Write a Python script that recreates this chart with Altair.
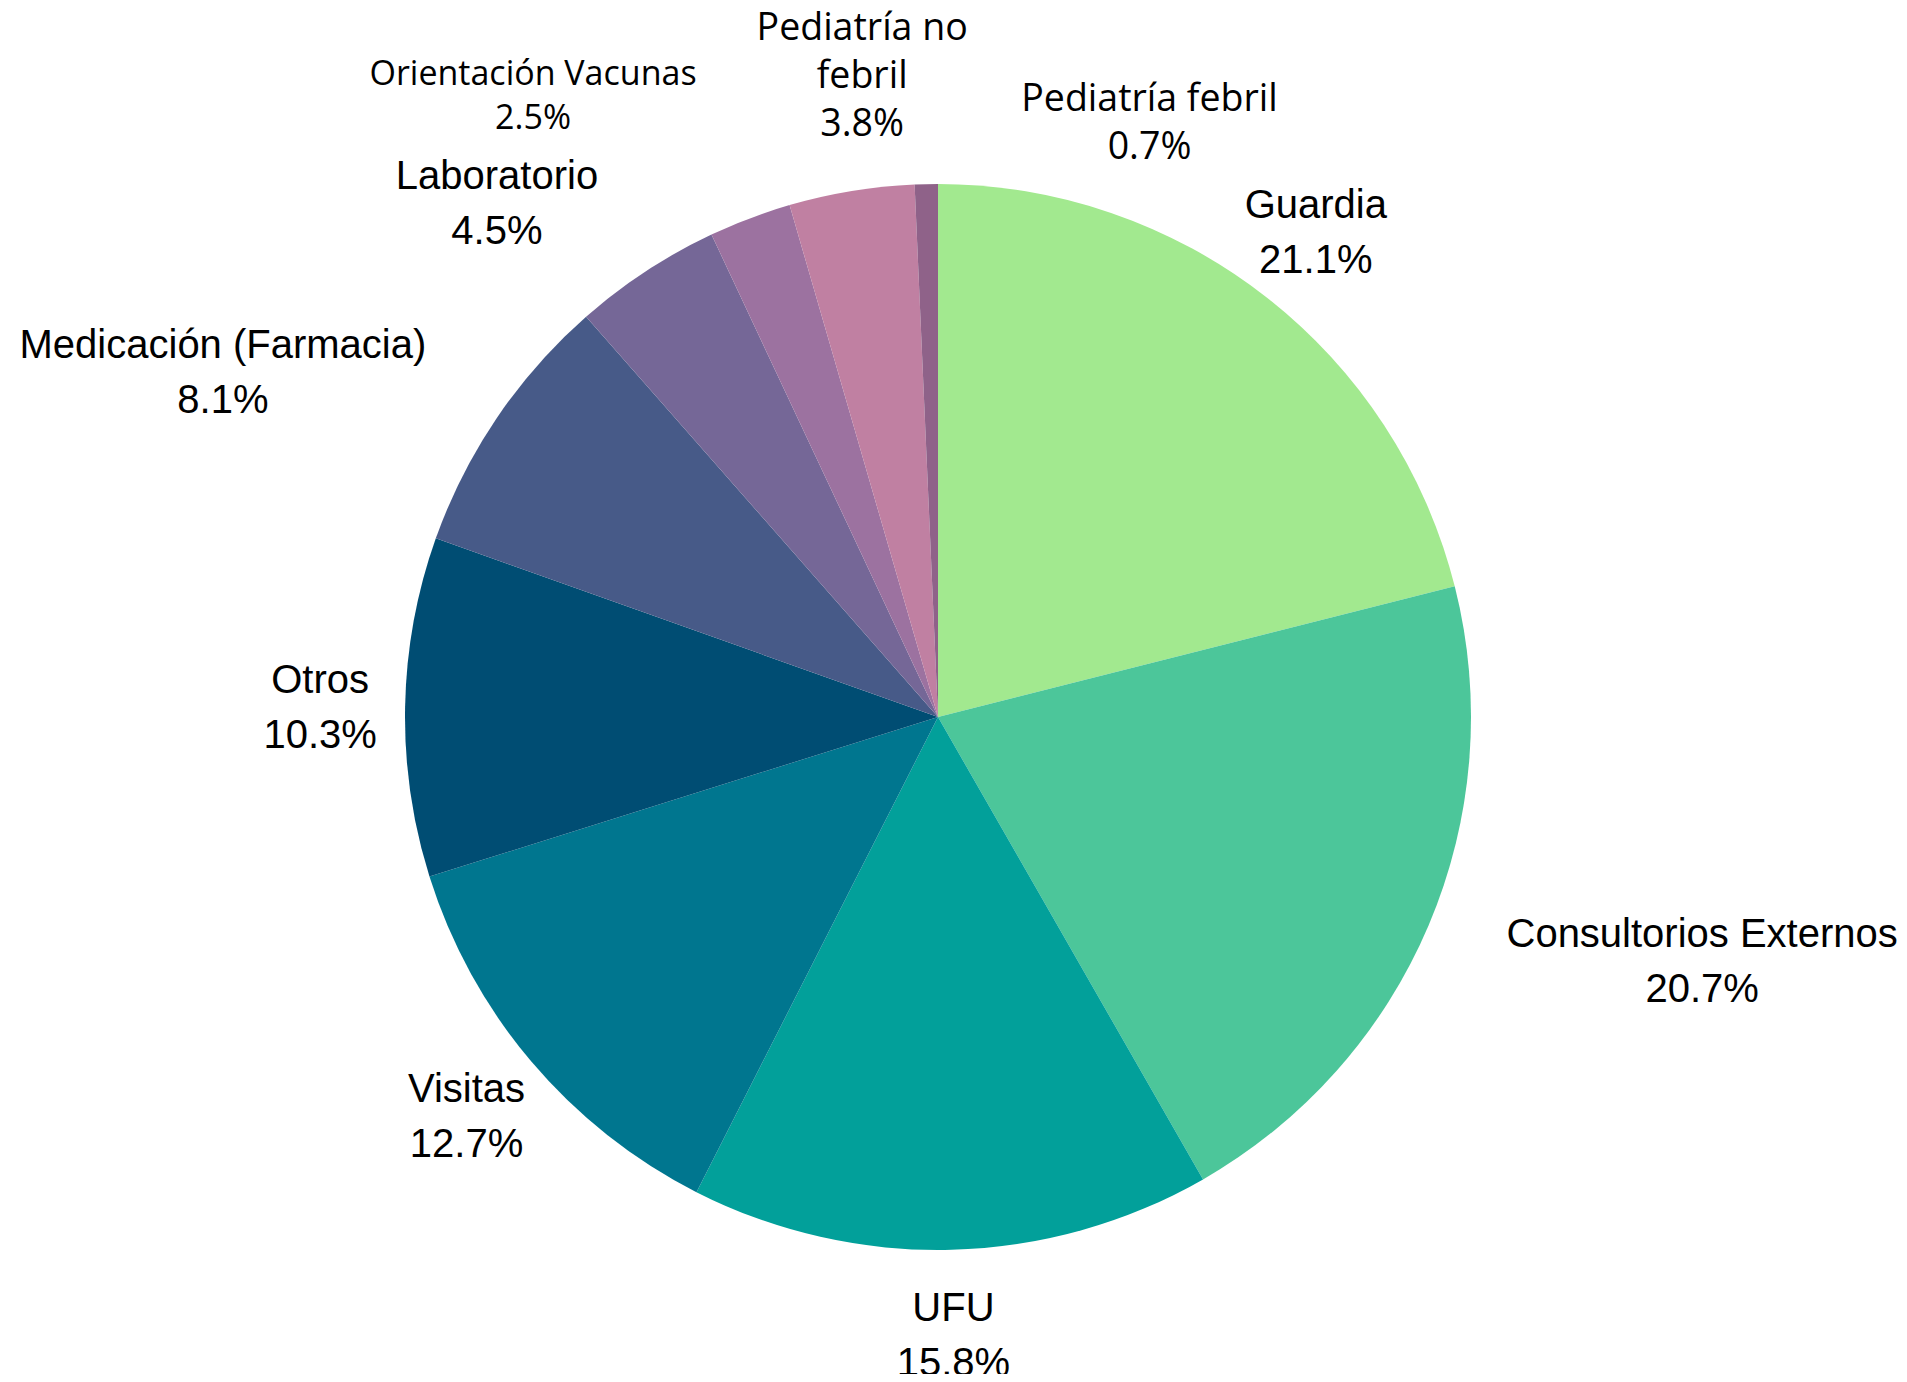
import altair as alt
import pandas as pd

# ---- data ----
names = [
    "Guardia",
    "Consultorios Externos",
    "UFU",
    "Visitas",
    "Otros",
    "Medicación (Farmacia)",
    "Laboratorio",
    "Orientación Vacunas",
    "Pediatría no febril",
    "Pediatría febril",
]
values = [21.1, 20.7, 15.8, 12.7, 10.3, 8.1, 4.5, 2.5, 3.8, 0.7]
colors = [
    "#a2e98f", "#4cc69a", "#02a09a", "#00768f", "#004d73",
    "#475a88", "#756797", "#9c72a0", "#c080a2", "#8f6289",
]
# display text of the category labels (wrapping as in the reference)
display_names = [
    "Guardia",
    "Consultorios Externos",
    "UFU",
    "Visitas",
    "Otros",
    "Medicación (Farmacia)",
    "Laboratorio",
    "Orientación Vacunas",
    "Pediatría no\nfebril",
    "Pediatría febril",
]

total = sum(values)

df = pd.DataFrame({
    "name": names,
    "value": values,
    "order": list(range(len(names))),
    "disp": display_names,
})

# ---- layout / style ----
CX, CY = 930, 709          # pie centre inside the view
R_PIE = 533
R_LAB = 615
BIG = dict(font="Liberation Sans", size=40, lh=55)
label_style = {
    "Guardia":               dict(**BIG, dx=0,    dy=-46),
    "Consultorios Externos": dict(**BIG, dx=198,  dy=-42),
    "UFU":                   dict(**BIG, dx=0,    dy=-43),
    "Visitas":               dict(**BIG, dx=-2,   dy=-44),
    "Otros":                 dict(**BIG, dx=-3,   dy=-44),
    "Medicación (Farmacia)": dict(**BIG, dx=-206, dy=-46),
    "Laboratorio":           dict(**BIG, dx=-104, dy=-46),
    "Orientación Vacunas":   dict(font="Open Sans", size=34, lh=44, dx=-188, dy=-84),
    "Pediatría no febril":   dict(font="Open Sans", size=37.5, lh=48, dx=24, dy=-100),
    "Pediatría febril":      dict(font="Open Sans", size=37.5, lh=48, dx=225, dy=-21),
}

theta_scale = alt.Scale(domain=[0, total])

base = alt.Chart(df).transform_window(
    cum="sum(value)", sort=[alt.SortField("order")], frame=[None, 0]
).transform_calculate(
    start="datum.cum - datum.value",
    mid="datum.cum - datum.value / 2",
    label="datum.disp + '\\n' + format(datum.value, '.1f') + '%'",
)

arcs = base.mark_arc(outerRadius=R_PIE, stroke=None).encode(
    theta=alt.Theta("start:Q", scale=theta_scale),
    theta2="cum:Q",
    color=alt.Color("name:N", scale=alt.Scale(domain=names, range=colors), legend=None),
    x=alt.value(CX),
    y=alt.value(CY),
)

layers = [arcs]
for nm, st in label_style.items():
    t = base.transform_filter(alt.datum.name == nm).mark_text(
        radius=R_LAB,
        align="center",
        baseline="top",
        font=st["font"],
        fontSize=st["size"],
        lineHeight=st["lh"],
        lineBreak="\n",
        color="#000000",
        dx=st["dx"],
        dy=st["dy"],
    ).encode(
        theta=alt.Theta("mid:Q", scale=theta_scale),
        text="label:N",
        x=alt.value(CX),
        y=alt.value(CY),
    )
    layers.append(t)

chart = alt.layer(*layers).properties(
    width=1891,
    height=1366,
    autosize=alt.AutoSizeParams(type="none"),
    padding=0,
    background="white",
).configure_view(stroke=None)

chart.save("out.html", embed_options={"renderer": "svg", "actions": False})
